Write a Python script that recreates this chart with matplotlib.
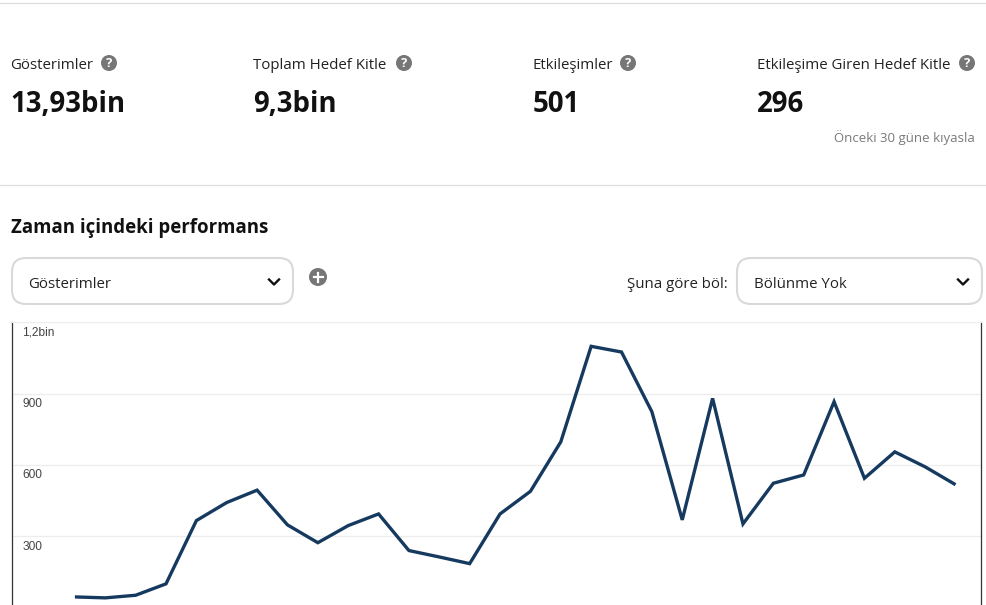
import matplotlib
matplotlib.use("Agg")
import matplotlib.pyplot as plt
from matplotlib.patches import FancyBboxPatch, Circle

W, H = 987, 605
impressions = [45, 41, 52, 100, 366, 442, 494, 348, 273, 345, 394, 240, 213, 185, 394,
               489, 697, 1099, 1075, 824, 369, 880, 352, 523, 558, 866, 544, 655, 592, 517]
y_ticks = [300, 600, 900, 1200]
y_tick_labels = ["300", "600", "900", "1,2bin"]
metric_names = ["Gösterimler", "Toplam Hedef Kitle", "Etkileşimler", "Etkileşime Giren Hedef Kitle"]
metric_values = ["13,93bin", "9,3bin", "501", "296"]

UI = "Open Sans"
fig = plt.figure(figsize=(W / 100, H / 100), dpi=100, facecolor="white")

# chart
x0, x1, top, bot = 12.5, 981.5, 322.3, 605
ax = fig.add_axes([x0 / W, 1 - bot / H, (x1 - x0) / W, (bot - top) / H])
ax.set_xlim(-2.055, 29.855)
ax.set_ylim(11, 1200)
ax.plot(range(len(impressions)), impressions, color="#163a5f", lw=2.4, solid_joinstyle="miter",
        solid_capstyle="butt", zorder=3)
ax.set_yticks(y_ticks)
ax.set_yticklabels([])
ax.tick_params(length=0)
ax.set_xticks([])
ax.grid(axis="y", color="#ededed", lw=0.9)
ax.set_axisbelow(True)
for s in ["left", "right"]:
    ax.spines[s].set_color("#333333")
    ax.spines[s].set_linewidth(0.9)
ax.spines["bottom"].set_visible(False)
ax.spines["top"].set_color("#ededed")
for v, lab in zip(y_ticks, y_tick_labels):
    ax.annotate(lab, xy=(0, v), xycoords=("axes fraction", "data"), xytext=(7, -7.5),
                textcoords="offset points", family="Liberation Sans", fontsize=8.6, color="#444444",
                ha="left", va="center")

# overlay in pixel coordinates
ui = fig.add_axes([0, 0, 1, 1], facecolor="none")
ui.set_xlim(0, W)
ui.set_ylim(H, 0)
ui.axis("off")

for y in (3.2, 185.2):
    ui.plot([0, W], [y, y], color="#dddddd", lw=0.9)

name_x = [10.6, 253.1, 532.6, 756.6]
icon_x = [109, 404, 628, 967]
for n, v, x, ix in zip(metric_names, metric_values, name_x, icon_x):
    ui.text(x, 65.3, n, family=UI, fontsize=10.85, color="#222222", va="center", ha="left")
    ui.text(x + 0.3, 104, v, family=UI, fontsize=19.9, fontweight="bold", color="#111111", va="center", ha="left")
    ui.add_patch(Circle((ix, 63), 8, color="#767676", lw=0))
    ui.text(ix, 63.3, "?", family=UI, fontsize=9.5, fontweight="bold", color="white", va="center", ha="center")

ui.text(975, 137.5, "Önceki 30 güne kıyasla", family=UI, fontsize=9.5, color="#7a7a7a", va="center", ha="right")
ui.text(11, 227.5, "Zaman içindeki performans", family=UI, fontsize=13.4, fontweight="bold", color="#111111",
        va="center", ha="left")

for bx0, bx1, label, tx, cx in [(12, 293, "Gösterimler", 28.6, 274), (737, 982, "Bölünme Yok", 754.5, 963)]:
    ui.add_patch(FancyBboxPatch((bx0 + 14, 258 + 14), bx1 - bx0 - 28, 46 - 28, boxstyle="round,pad=14",
                                fc="white", ec="#d9d9d9", lw=1.5))
    ui.text(tx, 284, label, family=UI, fontsize=10.85, color="#222222", va="center", ha="left")
    ui.plot([cx - 5, cx, cx + 5], [279.5, 284.5, 279.5], color="#111111", lw=1.7)

ui.text(728, 284, "Şuna göre böl:", family=UI, fontsize=10.85, color="#222222", va="center", ha="right")
ui.add_patch(Circle((318, 277), 9, color="#767676", lw=0))
ui.plot([313.5, 322.5], [277, 277], color="white", lw=1.6)
ui.plot([318, 318], [272.5, 281.5], color="white", lw=1.6)

fig.savefig("out.png", dpi=100, facecolor="white")
